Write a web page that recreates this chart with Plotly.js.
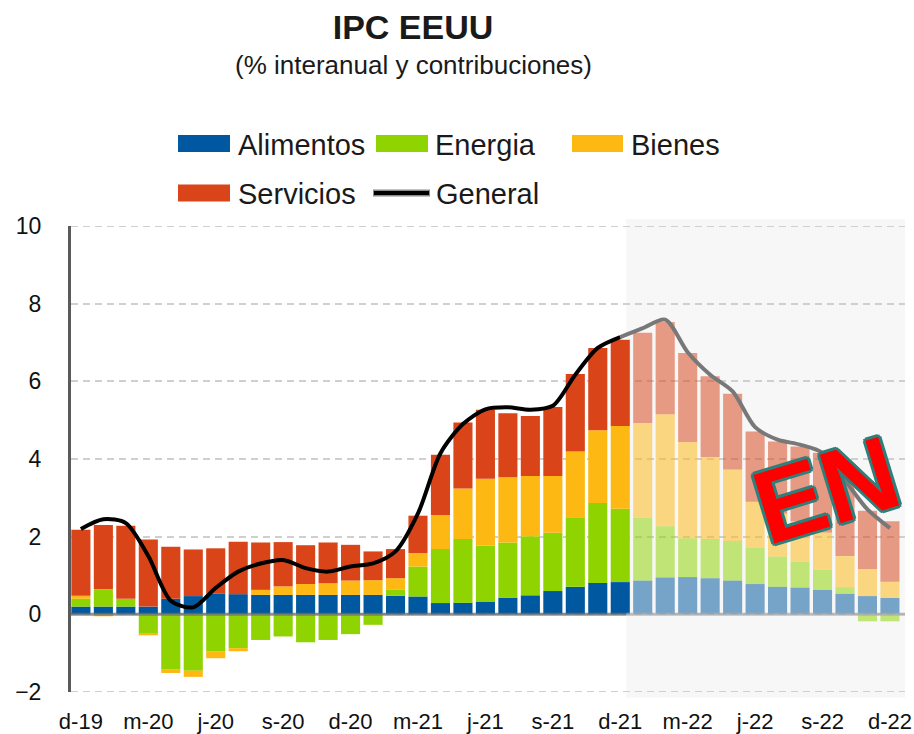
<!DOCTYPE html>
<html>
<head>
<meta charset="utf-8">
<script src="https://cdn.plot.ly/plotly-3.0.1.min.js"></script>
<style>html,body{margin:0;padding:0;background:#fff;}#chart{width:914px;height:734px;}</style>
</head>
<body>
<div id="chart"></div>
<script>
// ---- Data (contribuciones, p.p.; General = % interanual) ----
const months = ['dic-19','ene-20','feb-20','mar-20','abr-20','may-20','jun-20','jul-20','ago-20','sep-20','oct-20','nov-20','dic-20',
  'ene-21','feb-21','mar-21','abr-21','may-21','jun-21','jul-21','ago-21','sep-21','oct-21','nov-21','dic-21',
  'ene-22','feb-22','mar-22','abr-22','may-22','jun-22','jul-22','ago-22','sep-22','oct-22','nov-22','dic-22'];
const tickLabels = ['d-19','m-20','j-20','s-20','d-20','m-21','j-21','s-21','d-21','m-22','j-22','s-22','d-22'];
const tickEvery = 3;
const forecastStart = 25; // first forecast month (ene-22)

const alimentos = [0.20,0.20,0.20,0.20,0.40,0.47,0.54,0.52,0.50,0.50,0.50,0.50,0.50,0.50,0.48,0.46,0.29,0.30,0.32,0.43,0.49,0.60,0.71,0.81,0.83,0.87,0.95,0.96,0.93,0.87,0.78,0.71,0.69,0.63,0.53,0.47,0.42];
const energia   = [0.20,0.45,0.20,-0.48,-1.41,-1.45,-0.96,-0.87,-0.66,-0.57,-0.72,-0.66,-0.51,-0.27,0.15,0.77,1.39,1.64,1.45,1.42,1.52,1.50,1.79,2.06,1.89,1.62,1.32,1.00,1.01,1.02,0.94,0.78,0.66,0.52,0.17,-0.18,-0.18];
const bienes    = [0.08,-0.05,0.00,-0.06,-0.10,-0.16,-0.17,-0.08,0.13,0.22,0.28,0.30,0.37,0.38,0.30,0.35,0.88,1.30,1.72,1.68,1.55,1.46,1.69,1.87,2.13,2.44,2.88,2.48,2.11,1.84,1.18,1.10,1.05,0.96,0.80,0.70,0.42];
const servicios = [1.70,1.65,1.88,1.73,1.34,1.20,1.16,1.35,1.22,1.14,1.00,1.05,0.92,0.74,0.75,0.96,1.55,1.70,1.78,1.65,1.55,1.78,2.00,2.12,2.22,2.32,2.38,2.29,2.08,1.95,1.81,1.86,1.92,2.05,1.90,1.50,1.56];
const general   = [2.20,2.45,2.35,1.50,0.35,0.18,0.68,1.10,1.31,1.40,1.19,1.10,1.23,1.31,1.62,2.60,4.15,4.90,5.28,5.33,5.27,5.37,6.17,6.86,7.14,7.37,7.59,6.75,6.17,5.74,4.82,4.50,4.37,4.16,3.45,2.70,2.22];

const colors = {alimentos:'#0059a0', energia:'#8fd300', bienes:'#fdb813', servicios:'#d94519'};

// ---- Build ----
const x = months.map((_, i) => i);
const opac = x.map(i => i >= forecastStart ? 0.52 : 1);
const tickvals = tickLabels.map((_, k) => k * tickEvery);
const FONT = 'Liberation Sans, Arial, sans-serif';

function barTrace(name, vals, color) {
  return {type:'bar', name:name, x:x, y:vals, customdata:months,
    marker:{color:color, opacity:opac, line:{width:0}},
    hovertemplate:'%{customdata}: %{y}<extra>'+name+'</extra>'};
}
const hx = x.slice(0, forecastStart), fx = x.slice(forecastStart - 1);
const traces = [
  barTrace('Alimentos', alimentos, colors.alimentos),
  barTrace('Energia', energia, colors.energia),
  barTrace('Bienes', bienes, colors.bienes),
  barTrace('Servicios', servicios, colors.servicios),
  {type:'scatter', mode:'lines', name:'General', x:hx, y:general.slice(0, forecastStart),
   line:{color:'#000', width:4, shape:'spline', smoothing:0.8}},
  {type:'scatter', mode:'lines', name:'General (previsión)', x:fx, y:general.slice(forecastStart - 1),
   line:{color:'#787878', width:4, shape:'spline', smoothing:0.8}}
];

// legend (custom, pixel-like placement in paper coords)
const W = 834, H = 466, L = 71, T = 226;
const px = v => (v - L) / W, py = v => (T + H - v) / H;
const legendItems = [
  {label:'Alimentos', color:colors.alimentos, x0:178, x1:230, tx:236, y:143.5},
  {label:'Energia',   color:colors.energia,   x0:376, x1:428, tx:433, y:143.5},
  {label:'Bienes',    color:colors.bienes,    x0:572, x1:623, tx:629, y:143.5},
  {label:'Servicios', color:colors.servicios, x0:178, x1:230, tx:236, y:193},
  {label:'General',   color:'#000',           x0:373, x1:430, tx:434, y:193, line:true}
];
const shapes = [
  {type:'rect', layer:'below', xref:'x', yref:'paper', x0:forecastStart - 0.73, x1:36.67, y0:-0.012, y1:1.015,
   fillcolor:'#f7f7f7', line:{width:0}},
  {type:'line', layer:'below', xref:'paper', yref:'y', x0:0, x1:1, y0:10, y1:10,
   line:{color:'#cfcfcf', width:2, dash:'7px,5px'}},
  {type:'line', layer:'below', xref:'paper', yref:'y', x0:0, x1:1, y0:-2, y1:-2,
   line:{color:'#cfcfcf', width:2, dash:'7px,5px'}},
  {type:'line', layer:'above', xref:'x', yref:'y', x0:-0.44, x1:forecastStart - 0.73, y0:0, y1:0,
   line:{color:'rgba(110,110,110,0.75)', width:3}},
  {type:'line', layer:'above', xref:'x', yref:'y', x0:forecastStart - 0.73, x1:36.67, y0:0, y1:0,
   line:{color:'rgba(170,170,170,0.75)', width:3}}
];
const annotations = [
  {xref:'paper', yref:'paper', x:px(413), y:py(65), text:'(% interanual y contribuciones)', showarrow:false,
   xanchor:'center', yanchor:'middle', font:{family:FONT, size:26, color:'#1a1a1a'}},
  {xref:'paper', yref:'paper', x:px(826), y:py(490), text:'<b>EN</b>', showarrow:false, textangle:-17,
   xanchor:'center', yanchor:'middle',
   font:{family:FONT, size:104, color:'#ff0000',
         shadow:'2px 2px 0 #2f7f7b, -2px -2px 0 #2f7f7b, 2px -2px 0 #2f7f7b, -2px 2px 0 #2f7f7b, 0 3px 0 #2f7f7b, 0 -3px 0 #2f7f7b, 3px 0 0 #2f7f7b, -3px 0 0 #2f7f7b'}}
];
legendItems.forEach(it => {
  if (it.line) {
    shapes.push({type:'line', xref:'paper', yref:'paper', x0:px(it.x0), x1:px(it.x1), y0:py(it.y), y1:py(it.y),
      line:{color:'#8a8a8a', width:7}});
    shapes.push({type:'line', xref:'paper', yref:'paper', x0:px(it.x0+1), x1:px(it.x1-1), y0:py(it.y), y1:py(it.y),
      line:{color:'#000', width:4}});
  } else {
    shapes.push({type:'rect', xref:'paper', yref:'paper', x0:px(it.x0), x1:px(it.x1), y0:py(it.y+8.5), y1:py(it.y-8.5),
      fillcolor:it.color, line:{width:0}});
  }
  annotations.push({xref:'paper', yref:'paper', x:px(it.tx), y:py(it.y + 1), text:it.label, showarrow:false,
    xanchor:'left', yanchor:'middle', font:{family:FONT, size:29, color:'#1a1a1a'}});
});

const layout = {
  width:914, height:734,
  margin:{l:L, r:914 - L - W, t:T, b:734 - T - H, pad:0},
  paper_bgcolor:'#fff', plot_bgcolor:'rgba(0,0,0,0)',
  barmode:'relative', bargap:0.15,
  showlegend:false,
  title:{text:'<b>IPC EEUU</b>', x:413/914, xref:'container', xanchor:'center', y:1 - 27/734, yref:'container', yanchor:'middle',
         font:{family:FONT, size:34, color:'#1a1a1a'}},
  xaxis:{range:[-0.44, 36.67], tickmode:'array', tickvals:tickvals, ticktext:tickLabels, showgrid:false, zeroline:false,
         ticks:'', showline:false, ticklabelstandoff:14, tickfont:{family:FONT, size:22, color:'#111'}},
  yaxis:{range:[-2, 10], dtick:2, tick0:0, showgrid:true, gridcolor:'#cfcfcf', gridwidth:2, griddash:'7px,5px',
         zeroline:false, showline:true, linecolor:'#5a5a5a', linewidth:3, ticks:'', ticklabelstandoff:22,
         tickfont:{family:FONT, size:23, color:'#111'}},
  shapes:shapes, annotations:annotations
};
Plotly.newPlot('chart', traces, layout, {displayModeBar:false, staticPlot:true});
</script>
</body>
</html>
